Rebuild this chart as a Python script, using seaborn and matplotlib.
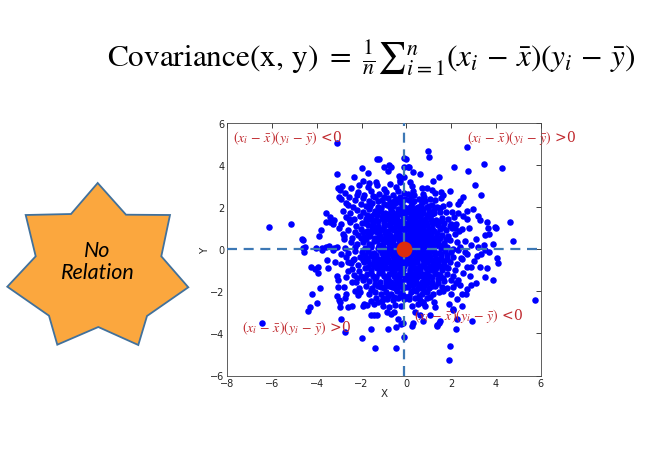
import matplotlib
matplotlib.use("Agg")
import matplotlib.pyplot as plt
import seaborn as sns
import pandas as pd
from matplotlib.patches import Polygon

# ---------------- data ----------------
ul_core = [(-2.88,3.02),(-2.47,2.93),(-2.12,3.08),(-1.72,2.96),(-1.33,3.05),(-0.98,2.88),(-0.71,3.12),(-0.46,2.97),(-0.27,3.2),
    (-2.76,2.68),(-2.18,2.75),(-1.88,2.6),(-1.57,2.77),(-1.24,2.63),(-0.93,2.71),(-0.62,2.58),(-0.36,2.8),(-0.12,2.66),
    (-2.93,2.38),(-2.56,2.47),(-2.31,2.33),(-1.96,2.44),(-1.68,2.3),(-1.41,2.49),(-1.09,2.36),(-0.83,2.45),(-0.54,2.31),(-0.29,2.5),(-0.06,2.4),
    (-2.63,2.12),(-2.38,2.02),(-2.04,2.17),(-1.79,2.05),(-1.52,2.2),(-1.28,2.0),(-1.02,2.14),(-0.74,2.03),(-0.49,2.19),(-0.21,2.07),
    (-2.84,1.84),(-2.51,1.73),(-2.19,1.88),(-1.94,1.76),(-1.66,1.9),(-1.44,1.7),(-1.18,1.82),(-0.96,1.74),(-0.69,1.88),(-0.44,1.72),(-0.24,1.86),(-0.04,1.78),
    (-2.69,1.52),(-2.36,1.43),(-2.06,1.58),(-1.81,1.46),(-1.58,1.6),(-1.36,1.41),(-1.11,1.55),(-0.88,1.44),(-0.64,1.57),(-0.41,1.47),(-0.16,1.59),
    (-2.91,1.21),(-2.54,1.28),(-2.24,1.13),(-1.97,1.25),(-1.71,1.16),(-1.49,1.3),(-1.26,1.12),(-1.01,1.24),(-0.79,1.14),(-0.56,1.29),(-0.31,1.17),(-0.09,1.27),
    (-2.61,0.93),(-2.29,0.84),(-2.01,0.97),(-1.76,0.86),(-1.54,0.99),(-1.31,0.82),(-1.06,0.95),(-0.84,0.87),(-0.61,0.98),(-0.39,0.85),(-0.19,0.96),
    (-2.79,0.62),(-2.44,0.55),(-2.16,0.68),(-1.89,0.57),(-1.64,0.66),(-1.39,0.52),(-1.16,0.64),(-0.94,0.55),(-0.71,0.69),(-0.49,0.58),(-0.29,0.67),(-0.11,0.53),
    (-2.49,0.33),(-2.21,0.24),(-1.94,0.37),(-1.69,0.27),(-1.46,0.38),(-1.21,0.22),(-0.99,0.34),(-0.78,0.26),(-0.59,0.39),(-0.38,0.23),(-0.21,0.36),(-0.04,0.28),
    (-2.72,0.08),(-2.28,0.12),(-1.86,0.05),(-1.56,0.13),(-1.29,0.06),(-1.04,0.11),(-0.86,0.03),(-0.66,0.14),(-0.44,0.07),(-0.26,0.12),
    (-0.15,0.45),(-0.34,0.78),(-0.55,0.93),(-0.76,0.44),(-0.91,0.72),(-0.3,1.03),(-0.52,0.17),(-0.72,1.21),(-1.12,0.48),(-0.2,1.36),
    (-0.46,1.63),(-0.86,1.49),(-1.33,1.04),(-1.05,1.69),(-0.61,2.07),(-0.14,1.82),(-0.35,2.27),(-1.62,0.77),(-1.86,1.27),(-2.02,0.53),
    (-0.08,0.75),(-0.25,0.6),(-0.65,0.35),(-0.42,1.3),(-1.2,0.9)]

ul_extra = [(-0.13,0.2),(-0.33,0.47),(-0.58,0.22),(-0.83,0.5),(-1.08,0.2),(-1.33,0.45),(-1.58,0.22),(-1.8,0.48),
    (-0.1,0.98),(-0.45,0.7),(-0.7,0.95),(-0.97,0.8),(-1.22,0.72),(-1.47,0.88),(-1.72,0.74),(-1.95,0.84),
    (-0.25,1.25),(-0.5,1.07),(-0.75,1.35),(-1.0,1.1),(-1.25,1.33),(-1.5,1.15),(-1.75,1.38),
    (-0.06,1.52),(-0.31,1.68),(-0.55,1.45),(-0.8,1.67),(-1.03,1.44),(-1.3,1.62),(-1.55,1.42),(-1.78,1.62),
    (-0.12,2.02),(-0.37,1.93),(-0.65,1.8),(-0.88,2.12),(-1.13,1.95),(-1.4,1.85),(-1.63,2.05),
    (-0.2,2.25),(-0.47,2.38),(-0.72,2.25),(-0.98,2.5),(-1.25,2.28),(-1.5,2.55),(-0.03,0.95),(-0.58,0.5),(-0.92,0.38)]

ul_outer = [(-6.13,1.06),(-5.16,1.22),(-4.66,0.5),(-4.6,0.45),(-3.9,0.65),(-3.6,1.3),(-3.11,5.08),(-3.11,3.6),(-3.05,2.9),(-2.98,2.85),
    (-3.0,2.5),(-2.7,2.2),(-2.34,3.46),(-2.0,3.86),(-1.7,3.62),(-1.32,4.3),(-1.22,4.28),(-0.98,3.9),(-0.79,4.02),(-0.8,3.75),
    (-0.7,3.9),(-0.09,4.37),(-0.09,3.94),(-1.95,3.24),(-1.65,3.18),(-1.35,3.2),(-0.35,3.5),(-0.28,3.3),(-2.2,2.6),(-3.59,1.75),
    (-3.4,1.55),(-3.25,1.4),(-3.4,1.3),(-3.3,1.2),(-3.0,1.0),(-2.85,0.75),(-2.8,0.5),(-4.53,0.11),(-3.6,0.1),(-3.45,0.15),
    (-3.25,0.08),(-3.1,0.12),(-2.55,1.45),(-3.8,0.9),(-4.05,0.05),(-3.75,0.05),(-4.6,0.06)]

ur_core = [(0.05,0.15),(0.22,0.08),(0.4,0.18),(0.63,0.06),(0.85,0.14),(1.08,0.05),(1.3,0.16),(1.55,0.07),(1.82,0.12),(2.1,0.04),(2.4,0.13),
    (0.12,0.38),(0.3,0.32),(0.52,0.42),(0.74,0.3),(0.95,0.44),(1.18,0.35),(1.42,0.41),(1.68,0.3),(1.95,0.45),(2.25,0.36),(2.6,0.4),
    (0.06,0.62),(0.24,0.7),(0.45,0.6),(0.66,0.72),(0.88,0.63),(1.1,0.74),(1.33,0.61),(1.58,0.7),(1.86,0.64),(2.15,0.75),
    (0.15,0.92),(0.36,0.85),(0.58,0.96),(0.8,0.88),(1.02,0.98),(1.25,0.86),(1.5,0.95),(1.76,0.9),(2.05,1.0),(2.35,0.88),
    (0.04,1.18),(0.27,1.25),(0.49,1.12),(0.71,1.22),(0.93,1.14),(1.16,1.27),(1.4,1.15),(1.66,1.24),(1.94,1.12),(2.22,1.2),
    (0.18,1.48),(0.4,1.42),(0.62,1.55),(0.84,1.45),(1.07,1.52),(1.31,1.4),(1.57,1.5),(1.85,1.44),(2.12,1.55),
    (0.08,1.76),(0.3,1.7),(0.53,1.82),(0.76,1.74),(0.99,1.85),(1.23,1.72),(1.48,1.8),(1.75,1.76),
    (0.2,2.05),(0.43,1.98),(0.66,2.1),(0.9,2.02),(1.14,2.12),(1.38,2.0),(1.64,2.08),(1.9,2.15),
    (0.1,2.35),(0.34,2.3),(0.57,2.4),(0.82,2.32),(1.06,2.42),(1.3,2.34),(1.55,2.45),
    (0.1,0.25),(0.28,0.5),(0.5,0.25),(0.62,0.5),(0.18,0.78),(0.4,1.0),(0.7,0.4),(0.95,0.58),(0.32,1.35),(0.55,1.3),
    (0.2,1.6),(0.45,1.6),(0.78,1.1),(1.2,0.5),(1.0,0.3)]

ur_extra = [(0.15,0.03),(0.35,0.22),(0.58,0.18),(0.8,0.3),(1.0,0.15),(1.25,0.25),(1.45,0.22),(1.7,0.18),
    (0.05,0.5),(0.38,0.6),(0.55,0.75),(0.78,0.55),(1.05,0.52),(1.3,0.45),(1.5,0.52),(1.75,0.5),
    (0.28,0.98),(0.48,0.85),(0.7,1.0),(0.92,0.82),(1.15,1.02),(1.38,0.8),(1.62,1.05),
    (0.12,1.35),(0.4,1.2),(0.65,1.35),(0.88,1.28),(1.12,1.38),(1.3,1.25),(1.55,1.35),
    (0.05,1.98),(0.28,1.88),(0.52,2.0),(0.75,1.92),(1.0,2.05),(1.25,1.88),(1.5,1.95),
    (0.18,1.15),(0.42,1.75),(0.65,1.68),(0.9,1.62),(1.15,1.7),(0.25,2.2),(0.7,2.25)]

ur_outer = [(0.98,4.69),(1.03,4.41),(2.69,4.87),(0.0,4.3),(0.05,3.9),(0.13,3.94),(0.31,3.7),(0.61,3.57),(-0.1,3.45),(2.13,3.9),
    (2.76,3.74),(3.47,4.07),(4.28,3.87),(1.47,3.45),(1.2,3.24),(3.08,3.08),(3.32,2.6),(1.95,2.76),(0.15,3.2),(0.25,3.0),
    (0.3,2.8),(0.05,2.65),(0.2,2.55),(0.35,2.6),(0.9,2.9),(1.15,2.85),(1.3,2.7),(1.55,2.75),(1.65,2.6),(0.68,2.9),
    (0.75,2.65),(0.8,2.5),(2.55,2.5),(2.4,2.3),(2.3,2.15),(2.72,1.85),(2.98,1.9),(3.2,1.6),(3.3,1.42),(3.62,1.3),
    (3.95,1.05),(3.65,1.0),(4.63,1.3),(4.78,0.38),(3.5,0.7),(3.85,0.25),(3.45,0.2),(2.3,1.75),(2.55,1.6),(2.7,1.45),
    (2.8,1.0),(2.5,0.95),(2.15,1.0),(1.98,1.22),(2.02,1.8),(3.7,0.73),(4.0,1.0),(3.1,0.5),(2.9,0.2),(3.2,0.1)]

ll_core = [(-0.08,-0.12),(-0.3,-0.05),(-0.52,-0.15),(-0.74,-0.06),(-0.96,-0.14),(-1.2,-0.04),(-1.45,-0.16),(-1.7,-0.08),(-1.98,-0.13),(-2.28,-0.06),(-2.6,-0.15),
    (-0.15,-0.36),(-0.38,-0.42),(-0.6,-0.32),(-0.82,-0.45),(-1.05,-0.35),(-1.28,-0.44),(-1.52,-0.33),(-1.78,-0.43),(-2.05,-0.34),(-2.35,-0.45),(-2.7,-0.38),
    (-0.06,-0.64),(-0.27,-0.72),(-0.48,-0.6),(-0.7,-0.7),(-0.92,-0.62),(-1.15,-0.74),(-1.38,-0.63),(-1.62,-0.71),(-1.88,-0.6),(-2.16,-0.73),(-2.48,-0.65),
    (-0.19,-0.95),(-0.41,-0.88),(-0.63,-0.98),(-0.86,-0.9),(-1.09,-1.0),(-1.33,-0.87),(-1.58,-0.97),(-1.84,-0.89),(-2.12,-1.01),(-2.42,-0.92),
    (-0.1,-1.22),(-0.33,-1.16),(-0.55,-1.27),(-0.78,-1.18),(-1.0,-1.28),(-1.24,-1.14),(-1.49,-1.25),(-1.75,-1.17),(-2.02,-1.27),(-2.32,-1.2),
    (-0.24,-1.48),(-0.46,-1.42),(-0.69,-1.54),(-0.92,-1.45),(-1.16,-1.56),(-1.4,-1.43),(-1.66,-1.52),(-1.93,-1.44),(-2.25,-1.55),
    (-0.07,-1.78),(-0.3,-1.72),(-0.53,-1.83),(-0.77,-1.75),(-1.01,-1.86),(-1.26,-1.73),(-1.52,-1.82),(-1.8,-1.76),(-2.1,-1.85),
    (-0.2,-2.06),(-0.43,-2.0),(-0.67,-2.11),(-0.91,-2.03),(-1.15,-2.14),(-1.4,-2.02),(-1.68,-2.1),
    (-0.12,-2.38),(-0.36,-2.32),(-0.6,-2.42),(-0.85,-2.34),(-1.1,-2.45),(-1.35,-2.3),
    (-0.25,-2.7),(-0.5,-2.64),(-0.78,-2.75),(-1.05,-2.68),
    (-0.2,-0.25),(-0.4,-0.6),(-0.65,-0.2),(-0.85,-0.55),(-0.3,-0.85),(-0.55,-1.05),(-1.1,-0.5),(-0.15,-1.0),(-0.45,-1.3),(-0.8,-1.4),
    (-1.3,-0.65),(-0.6,-1.65),(-0.25,-1.6),(-1.0,-0.2),(-0.12,-2.2)]

ll_extra = [(-0.18,-0.05),(-0.4,-0.22),(-0.62,-0.06),(-0.85,-0.25),(-1.1,-0.15),(-1.35,-0.25),(-1.6,-0.2),(-1.85,-0.27),
    (-0.08,-0.45),(-0.3,-0.55),(-0.55,-0.45),(-0.75,-0.58),(-1.0,-0.5),(-1.25,-0.58),(-1.45,-0.5),(-1.7,-0.55),(-1.95,-0.5),
    (-0.25,-1.05),(-0.5,-0.78),(-0.72,-0.88),(-0.95,-0.78),(-1.2,-0.9),(-1.45,-0.78),(-1.7,-0.85),
    (-0.05,-1.4),(-0.35,-1.32),(-0.6,-1.12),(-0.85,-1.3),(-1.1,-1.12),(-1.35,-1.3),(-1.6,-1.1),(-1.85,-1.3),
    (-0.15,-1.85),(-0.4,-1.6),(-0.65,-1.78),(-0.9,-1.65),(-1.15,-1.8),(-1.4,-1.65),(-1.6,-1.95),
    (-0.3,-2.2),(-0.55,-2.25),(-0.8,-2.2),(-1.05,-2.3),(-1.25,-2.5),(-0.1,-0.8),(-0.4,-1.95)]

ll_outer = [(-6.46,-3.52),(-4.57,-0.1),(-3.78,-0.02),(-3.26,-0.05),(-4.27,-0.86),(-4.08,-0.94),(-3.93,-0.83),(-3.96,-1.1),(-3.48,-0.9),(-3.85,-1.86),
    (-4.2,-2.1),(-4.0,-2.56),(-4.3,-2.76),(-4.38,-2.92),(-3.04,-1.81),(-3.0,-2.4),(-2.98,-2.5),(-2.96,-2.76),(-2.92,-3.32),(-2.74,-3.95),
    (-2.59,-2.76),(-1.98,-4.22),(-1.89,-2.6),(-1.58,-2.44),(-1.58,-3.11),(-1.44,-3.11),(-1.3,-3.1),(-1.58,-3.8),(-1.38,-4.67),(-0.83,-3.8),
    (-0.46,-4.67),(-0.48,-3.68),(-0.09,-4.19),(-0.16,-3.5),(-3.1,-1.25),(-3.05,-1.45),(-2.75,-2.3),(-2.7,-2.1),(-2.3,-2.0),(-2.15,-2.15),
    (-2.05,-2.05),(-1.75,-2.65),(-1.45,-2.6),(-0.88,-3.0),(-0.7,-3.05),(-0.55,-3.0),(-0.37,-3.3),(-0.23,-3.55),(-2.7,-1.3),(-2.45,-1.55),
    (-2.2,-1.35),(-2.8,-1.8),(-3.55,-0.5),(-3.2,-0.6),(-2.9,-0.7),(-2.6,-0.6),(-2.4,-0.5),(-2.45,-2.7),(-1.92,-2.7),(-3.1,-2.2),
    (-2.6,-1.05),(-2.9,-0.2)]

lr_core = [(0.08,-0.1),(0.3,-0.04),(0.52,-0.14),(0.75,-0.05),(0.98,-0.13),(1.22,-0.06),(1.47,-0.15),(1.72,-0.07),(2.0,-0.12),(2.3,-0.05),(2.6,-0.14),
    (0.16,-0.37),(0.39,-0.44),(0.61,-0.33),(0.84,-0.43),(1.07,-0.34),(1.31,-0.45),(1.56,-0.35),(1.82,-0.44),(2.1,-0.36),(2.42,-0.43),
    (0.05,-0.63),(0.27,-0.7),(0.49,-0.61),(0.72,-0.72),(0.94,-0.62),(1.18,-0.71),(1.42,-0.63),(1.68,-0.73),(1.96,-0.62),(2.26,-0.7),
    (0.18,-0.94),(0.41,-0.87),(0.63,-0.97),(0.86,-0.89),(1.1,-0.99),(1.34,-0.88),(1.6,-0.96),(1.88,-0.9),(2.16,-1.0),
    (0.09,-1.2),(0.32,-1.15),(0.55,-1.26),(0.78,-1.17),(1.02,-1.27),(1.26,-1.14),(1.52,-1.24),(1.8,-1.18),(2.08,-1.28),
    (0.22,-1.47),(0.45,-1.41),(0.68,-1.53),(0.92,-1.44),(1.16,-1.55),(1.42,-1.42),(1.7,-1.5),(1.98,-1.46),
    (0.07,-1.77),(0.3,-1.71),(0.54,-1.82),(0.78,-1.74),(1.03,-1.85),(1.3,-1.72),(1.58,-1.8),
    (0.2,-2.05),(0.44,-1.99),(0.68,-2.1),(0.93,-2.02),(1.2,-2.12),(1.45,-2.04),
    (0.12,-2.36),(0.37,-2.3),(0.62,-2.4),(0.9,-2.33),
    (0.25,-2.68),(0.5,-2.62),
    (0.2,-0.22),(0.42,-0.58),(0.65,-0.22),(0.85,-0.6),(0.3,-0.85),(0.55,-1.02),(1.1,-0.5),(0.15,-1.05),(0.45,-1.3),(0.8,-1.35),
    (1.3,-0.7),(0.12,-1.55),(0.6,-1.65),(1.0,-0.25)]

lr_extra = [(0.15,-0.05),(0.38,-0.2),(0.6,-0.05),(0.82,-0.25),(1.05,-0.12),(1.28,-0.25),(1.55,-0.22),(1.8,-0.25),
    (0.05,-0.45),(0.28,-0.55),(0.5,-0.42),(0.72,-0.5),(0.95,-0.48),(1.2,-0.55),(1.45,-0.5),(1.7,-0.55),
    (0.2,-0.75),(0.38,-0.95),(0.6,-0.8),(0.8,-0.78),(1.05,-0.8),(1.25,-0.95),(1.5,-0.8),(1.75,-0.85),
    (0.05,-1.35),(0.25,-1.28),(0.45,-1.12),(0.68,-1.28),(0.92,-1.12),(1.15,-1.3),(1.38,-1.18),(1.62,-1.35),
    (0.15,-1.65),(0.42,-1.6),(0.65,-1.85),(0.9,-1.6),(1.15,-1.72),(1.4,-1.6),(0.3,-1.95),(0.55,-2.2),(0.8,-2.0),(1.05,-2.25),
    (0.1,-2.2),(0.75,-2.55)]

lr_outer = [(0.24,-3.63),(0.28,-3.48),(0.76,-3.4),(1.38,-3.63),(1.47,-3.52),(1.95,-4.59),(1.92,-5.25),(2.2,-3.8),(2.92,-3.4),(5.74,-2.41),
    (2.1,-2.89),(2.25,-2.37),(2.66,-2.1),(3.11,-1.62),(3.53,-1.29),(3.85,-1.46),(4.03,-0.41),(4.1,-0.67),(3.59,-0.89),(3.3,-0.86),
    (2.72,-0.86),(2.1,-1.81),(2.85,-1.25),(2.88,-1.7),(2.7,-1.9),(2.47,-2.1),(1.65,-2.0),(1.8,-1.85),(2.0,-2.1),(1.22,-2.5),
    (1.3,-2.75),(0.75,-2.5),(0.85,-2.7),(1.9,-2.6),(2.1,-2.85),(0.38,-2.98),(0.6,-3.1),(1.05,-3.1),(1.5,-3.4),(1.35,-3.6),
    (2.25,-3.3),(2.47,-2.7),(2.4,-1.7),(2.2,-1.6),(2.3,-1.45),(2.9,-0.85),(3.15,-0.3),(3.35,-0.2),(3.5,-0.05),(3.7,-0.1),
    (2.7,-0.2),(2.5,-0.45),(2.55,-1.1),(3.0,-0.55)]

mean_x = -0.1
mean_y = 0.0

x_ticks = [-8, -6, -4, -2, 0, 2, 4, 6]
y_ticks = [-6, -4, -2, 0, 2, 4, 6]
x_label = "X"
y_label = "Y"
title_formula = (r"$\mathrm{Covariance(x,\,y)}\ =\ \frac{1}{n}{\sum}_{i=1}^{n}"
                 r"(x_i\,-\,\bar{x})(y_i\,-\,\bar{y})$")
quad_texts = [r"$(x_i\,-\,\bar{x})(y_i\,-\,\bar{y})$ <0", r"$(x_i\,-\,\bar{x})(y_i\,-\,\bar{y})$ >0",
              r"$(x_i\,-\,\bar{x})(y_i\,-\,\bar{y})$ >0", r"$(x_i\,-\,\bar{x})(y_i\,-\,\bar{y})$ <0"]
star_text = "No\nRelation"

# ---------------- build ----------------
all_pts = (ul_core + ul_extra + ul_outer + ur_core + ur_extra + ur_outer +
           ll_core + ll_extra + ll_outer + lr_core + lr_extra + lr_outer)
df = pd.DataFrame(all_pts, columns=["x", "y"])
mean_df = pd.DataFrame({"x": [mean_x], "y": [mean_y]})

sns.set_theme(style="white")
plt.rcParams['font.family'] = ['DejaVu Sans']
plt.rcParams['mathtext.fontset'] = 'stix'

W, H = 656, 452
fig = plt.figure(figsize=(W / 100, H / 100), dpi=100)
fig.patch.set_facecolor("white")

ax = fig.add_axes([227.3 / W, (H - 376.5) / H, 313.4 / W, 252.2 / H])
sns.scatterplot(data=df, x="x", y="y", ax=ax, color="#0000FF", s=22, linewidth=0, zorder=2, legend=False)
ax.axhline(mean_y, color="#3D78B5", lw=1.6, ls=(0, (4.5, 3)), zorder=3)
ax.axvline(mean_x, color="#3D78B5", lw=1.6, ls=(0, (4.5, 3)), zorder=3)
sns.scatterplot(data=mean_df, x="x", y="y", ax=ax, color="#DD2C0E", s=130, linewidth=0, zorder=4, legend=False)

ax.set_xlim(-8, 6)
ax.set_ylim(-6, 6)
ax.set_xticks(x_ticks)
ax.set_yticks(y_ticks)
ax.tick_params(direction="in", top=True, right=True, length=3.5, width=0.6, labelsize=7, pad=2, colors="#222222")
for sp in ax.spines.values():
    sp.set_linewidth(0.6)
    sp.set_color("#444444")
ax.set_xlabel(x_label, fontsize=7.5, labelpad=0)
ax.set_ylabel(y_label, fontsize=7.5, labelpad=0)

text_pos = [(-7.74, 5.36), (2.69, 5.33), (-7.36, -3.68), (0.35, -3.13)]
for (tx, ty), t in zip(text_pos, quad_texts):
    ax.text(tx, ty, t, color="#C0282D", fontsize=10, ha="left", va="center",
            family="DejaVu Serif", zorder=5, clip_on=False)

# overlay for decorations in pixel coordinates
ov = fig.add_axes([0, 0, 1, 1])
ov.set_xlim(0, W)
ov.set_ylim(H, 0)
ov.axis("off")
star_xy = [(97.7, 184), (126, 215.7), (170, 216), (161.3, 257.3), (188.3, 288.3), (147, 317), (138.3, 346),
           (98.3, 328), (57.3, 345.7), (49, 316.7), (7.3, 287.7), (35.7, 257.3), (25.7, 216), (71, 215)]
ov.add_patch(Polygon(star_xy, closed=True, facecolor="#FBA73E", edgecolor="#41719C", lw=1.3))
ov.text(97.5, 262, star_text, ha="center", va="center", fontsize=15.5, style="italic",
        family="Lato", color="black", linespacing=1.15)
ov.text(107, 58, title_formula, ha="left", va="center", fontsize=22.5, color="black")

fig.savefig("out.png", dpi=100, facecolor="white")
